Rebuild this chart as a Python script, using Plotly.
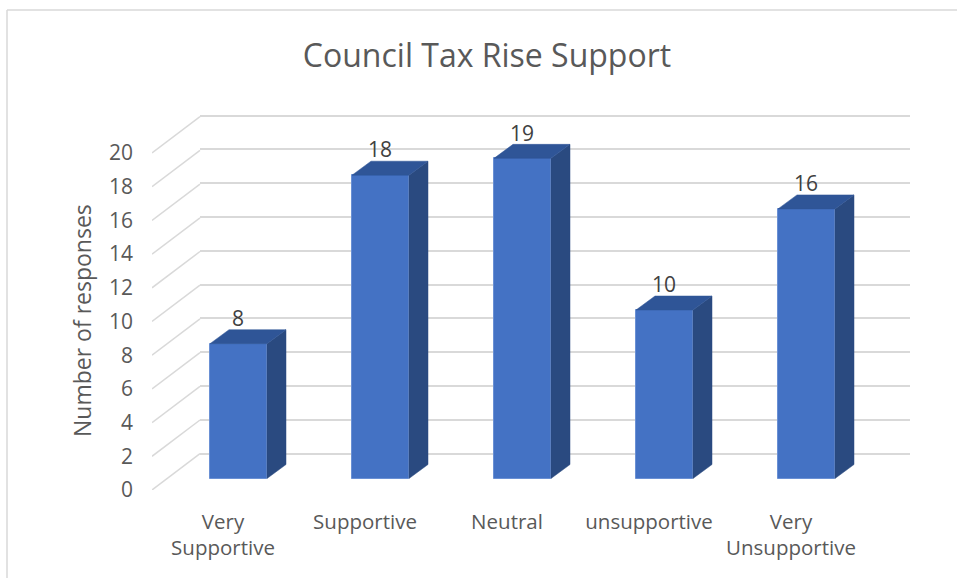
import plotly.graph_objects as go

categories = ["Very<br>Supportive", "Supportive", "Neutral", "unsupportive", "Very<br>Unsupportive"]
responses = [8, 18, 19, 10, 16]
value_ticks = list(range(0, 21, 2))
title_text = "Council Tax Rise Support"
y_title = "Number of responses"

W, H = 957, 578
FONT = "Open Sans"
TXT = "#595959"
GRID = "#D9D9D9"

# layout geometry, pixels
PX_PER_UNIT = 16.85
CAT_PX = 142.0
LEFT, RIGHT, FRONT_Y0 = 152, 911, 490
FIRST_TICK_PX = 223
BACK_DX, BACK_Y0, BACK_Y20 = 48, 453.7, 115.5
BAR_BASE = (490 - 478.5) / PX_PER_UNIT
BAR_SHIFT = 15.5 / CAT_PX
BAR_W = 57.0 / CAT_PX
SIDE_DX = 19.0 / CAT_PX
SIDE_DY = 14.0 / PX_PER_UNIT
LABEL_DY = 23.0 / PX_PER_UNIT
TOP_PX = 100
WALL_PAD_UNITS = 2
WALL_UNIT_PX = (BACK_Y0 - BACK_Y20) / 20

idx = list(range(len(categories)))
fig = go.Figure()

# back wall subplot: its gridlines lie beneath everything else
fig.add_trace(go.Scatter(x=[0], y=[0], mode="markers", marker=dict(opacity=0), xaxis="x", yaxis="y",
                         hoverinfo="skip", showlegend=False))

# receding floor/wall lines at the left
dx_units = BACK_DX / CAT_PX
dy_units = (FRONT_Y0 - BACK_Y0) / PX_PER_UNIT
x0 = (LEFT - FIRST_TICK_PX) / CAT_PX
for v in value_ticks:
    fig.add_trace(go.Scatter(x=[x0, x0 + dx_units], y=[v, v + dy_units], mode="lines",
                             line=dict(color=GRID, width=1.5), xaxis="x2", yaxis="y2",
                             hoverinfo="skip", showlegend=False))

# front faces
fig.add_trace(go.Bar(x=[i + BAR_SHIFT for i in idx], y=responses, base=BAR_BASE, width=BAR_W,
                     marker=dict(color="#4472C4", line=dict(color="#6A90D4", width=1)),
                     xaxis="x2", yaxis="y2", showlegend=False))

# side and top faces
for i, v in zip(idx, responses):
    xl = i + BAR_SHIFT - BAR_W / 2
    xr = i + BAR_SHIFT + BAR_W / 2
    top = v + BAR_BASE
    fig.add_trace(go.Scatter(x=[xr, xr + SIDE_DX, xr + SIDE_DX, xr, xr],
                             y=[BAR_BASE, BAR_BASE + SIDE_DY, top + SIDE_DY, top, BAR_BASE],
                             mode="lines", fill="toself", fillcolor="#2A4A80",
                             line=dict(color="#2A4A80", width=0.5), xaxis="x2", yaxis="y2",
                             hoverinfo="skip", showlegend=False))
    fig.add_trace(go.Scatter(x=[xl, xl + SIDE_DX, xr + SIDE_DX, xr, xl],
                             y=[top, top + SIDE_DY, top + SIDE_DY, top, top],
                             mode="lines", fill="toself", fillcolor="#2F5597",
                             line=dict(color="#2F5597", width=0.5), xaxis="x2", yaxis="y2",
                             hoverinfo="skip", showlegend=False))

# data labels
fig.add_trace(go.Scatter(x=[i + BAR_SHIFT - 0.5 / CAT_PX for i in idx],
                         y=[v + BAR_BASE + LABEL_DY for v in responses],
                         mode="text", text=[str(v) for v in responses], textposition="middle center",
                         textfont=dict(family=FONT, size=21, color="#404040"),
                         xaxis="x2", yaxis="y2", hoverinfo="skip", showlegend=False))

frame = dict(type="line", xref="paper", yref="paper", line=dict(color=GRID, width=1.5), layer="below")
wall_bottom = BACK_Y0 + WALL_PAD_UNITS * WALL_UNIT_PX
wall_top = BACK_Y20 - WALL_PAD_UNITS * WALL_UNIT_PX

fig.update_layout(
    width=W, height=H,
    margin=dict(l=0, r=0, t=0, b=0, autoexpand=False),
    paper_bgcolor="white", plot_bgcolor="rgba(0,0,0,0)",
    font=dict(family=FONT, color=TXT),
    showlegend=False,
    bargap=0,
    title=dict(text=title_text, x=487 / W, y=1 - 56 / H, xanchor="center", yanchor="middle",
               font=dict(family=FONT, size=32, color=TXT)),
    xaxis=dict(domain=[(LEFT + BACK_DX) / W, (LEFT + BACK_DX + 710) / W], range=[0, 1],
               visible=False, anchor="y", automargin=False),
    yaxis=dict(domain=[1 - wall_bottom / H, 1 - wall_top / H],
               range=[-WALL_PAD_UNITS, 20 + WALL_PAD_UNITS], tickmode="array", tickvals=value_ticks,
               showticklabels=False, showgrid=True, gridcolor=GRID, gridwidth=1.5,
               zeroline=False, showline=False, anchor="x", ticks="", automargin=False),
    xaxis2=dict(domain=[LEFT / W, RIGHT / W],
                range=[x0, (RIGHT - FIRST_TICK_PX) / CAT_PX],
                tickmode="array", tickvals=idx, ticktext=categories,
                tickfont=dict(family=FONT, size=20.5, color=TXT), tickangle=0,
                showgrid=False, zeroline=False, showline=False, ticks="",
                ticklabelstandoff=17, anchor="y2", automargin=False),
    yaxis2=dict(domain=[1 - FRONT_Y0 / H, 1 - TOP_PX / H],
                range=[0, (FRONT_Y0 - TOP_PX) / PX_PER_UNIT],
                tickmode="array", tickvals=value_ticks,
                tickfont=dict(family=FONT, size=21, color=TXT),
                showgrid=False, zeroline=False, showline=False, ticks="",
                ticklabelstandoff=18, anchor="x2", automargin=False),
    annotations=[dict(text=y_title, xref="paper", yref="paper", x=82 / W, y=1 - 321 / H,
                      xanchor="center", yanchor="middle", textangle=-90, showarrow=False,
                      font=dict(family=FONT, size=23, color=TXT))],
    shapes=[
        dict(frame, x0=7 / W, x1=7 / W, y0=0, y1=1 - 10 / H),
        dict(frame, x0=7 / W, x1=1, y0=1 - 10 / H, y1=1 - 10 / H),
    ],
)

fig.write_html("out.html", config={"displayModeBar": False},
               post_script="document.body.style.margin='0';document.documentElement.style.overflow='hidden';")
